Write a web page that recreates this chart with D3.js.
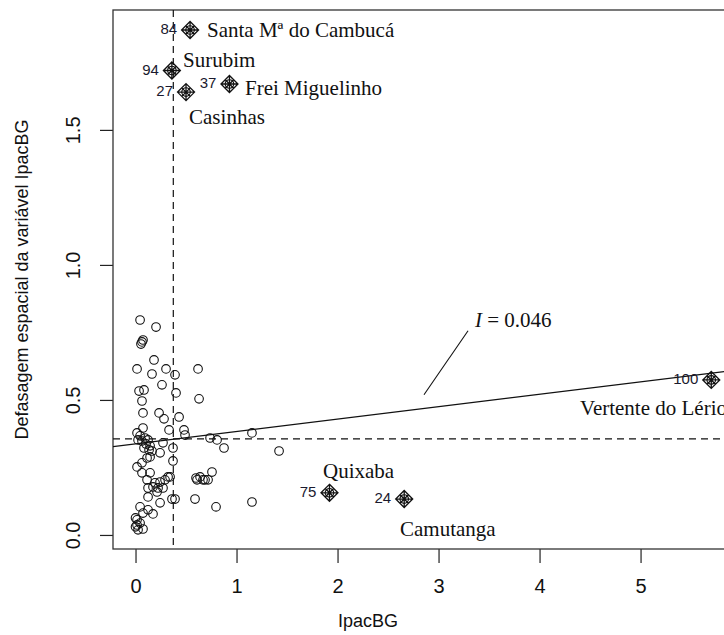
<!DOCTYPE html>
<html><head><meta charset="utf-8">
<script src="https://cdn.jsdelivr.net/npm/d3@7"></script>
<style>body{margin:0;background:#fff}svg{display:block}</style>
</head><body>
<script>
// ---- data ----
const ptX = [0.045,0.203,0.074,0.064,0.054,0.183,0.015,0.163,0.302,0.391,0.619,0.262,0.035,0.084,0.401,0.629,0.064,0.074,0.233,0.282,0.431,0.332,0.480,0.490,0.074,0.015,0.045,0.094,0.064,0.124,0.104,0.144,0.084,0.163,0.134,0.144,0.025,0.272,0.371,0.738,0.807,0.876,1.153,1.421,0.243,0.371,0.015,0.064,0.114,0.064,0.144,0.114,0.193,0.243,0.292,0.322,0.342,0.124,0.173,0.223,0.213,0.272,0.639,0.609,0.688,0.757,0.718,0.599,0.668,0.361,0.391,0.589,1.153,0.797,0.243,0.124,0.045,0.074,0.173,0.124,0.015,0.045,0.000,0.025,0.074,0.000,0.015];
const ptY = [0.796,0.770,0.722,0.715,0.707,0.648,0.615,0.596,0.615,0.593,0.615,0.556,0.533,0.537,0.526,0.504,0.496,0.452,0.452,0.430,0.437,0.389,0.389,0.370,0.396,0.378,0.367,0.359,0.348,0.352,0.337,0.330,0.322,0.311,0.315,0.289,0.352,0.341,0.322,0.359,0.352,0.322,0.378,0.311,0.304,0.274,0.252,0.267,0.285,0.230,0.230,0.204,0.193,0.196,0.204,0.215,0.215,0.174,0.178,0.174,0.159,0.174,0.215,0.204,0.204,0.233,0.204,0.211,0.204,0.133,0.133,0.133,0.122,0.104,0.119,0.141,0.104,0.081,0.078,0.093,0.056,0.044,0.030,0.019,0.022,0.063,0.037];

const inflX  = [0.54, 0.36, 0.93, 0.50, 5.70, 1.92, 2.66];
const inflY  = [1.87, 1.72, 1.67, 1.64, 0.574, 0.156, 0.133];
const inflId = ["84","94","37","27","100","75","24"];

const names  = ["Santa Mª do Cambucá","Surubim","Frei Miguelinho","Casinhas","Vertente do Lério","Quixaba","Camutanga"];
const nameX  = [0.708, 0.470, 1.084, 0.530, 4.401, 1.856, 2.619];
const nameY  = [1.870, 1.759, 1.656, 1.548, 0.470, 0.237, 0.022];

const meanX = 0.374, meanWX = 0.356;
const slope = 0.046, intercept = 0.337;
const moranLabel = "0.046";
const annotX = [3.292, 2.856], annotY = [0.756, 0.519];
const annotTextX = 3.361, annotTextY = 0.796;

const xTicks = [0,1,2,3,4,5];
const yTicks = [0,0.5,1.0,1.5];
const xTitle = "IpacBG";
const yTitle = "Defasagem espacial da variável IpacBG";

// ---- layout ----
const W = 724, H = 635;
const L = 113, R = 735, T = 10, B = 549;
const x = d3.scaleLinear().domain([-0.223, 5.935]).range([L, R]);
const y = d3.scaleLinear().domain([-0.052, 1.944]).range([B, T]);

const svg = d3.select("body").append("svg").attr("width", W).attr("height", H);
svg.append("defs").append("clipPath").attr("id","clip")
  .append("rect").attr("x",L).attr("y",T).attr("width",R-L).attr("height",B-T);

const sans = "'Liberation Sans', Arial, sans-serif";
const serif = "'Liberation Serif', 'Times New Roman', serif";

// axes
const xAxis = svg.append("g").attr("transform",`translate(0,${B})`)
  .call(d3.axisBottom(x).tickValues(xTicks).tickFormat(d3.format("d")).tickSize(14).tickPadding(16));
xAxis.select(".domain").remove();
xAxis.selectAll("line").attr("stroke","#222").attr("stroke-width",1.2);
xAxis.selectAll("text").attr("font-family",sans).attr("font-size",20).attr("fill","#111");

const yAxis = svg.append("g").attr("transform",`translate(${L},0)`)
  .call(d3.axisLeft(y).tickValues(yTicks).tickFormat(d3.format(".1f")).tickSize(13).tickPadding(0));
yAxis.select(".domain").remove();
yAxis.selectAll("line").attr("stroke","#222").attr("stroke-width",1.2);
yAxis.selectAll("text")
  .attr("font-family",sans).attr("font-size",20).attr("fill","#111")
  .attr("text-anchor","middle").attr("dy",null)
  .attr("x",null).attr("transform","translate(-33,0) rotate(-90)");

// frame
svg.append("rect").attr("x",L).attr("y",T).attr("width",R-L).attr("height",B-T)
  .attr("fill","none").attr("stroke","#333").attr("stroke-width",1.3);

// titles
svg.append("text").attr("x",368).attr("y",627).attr("text-anchor","middle")
  .attr("font-family",sans).attr("font-size",18).attr("fill","#111").text(xTitle);
svg.append("text").attr("transform",`translate(28,${(T+B)/2}) rotate(-90)`).attr("text-anchor","middle")
  .attr("font-family",sans).attr("font-size",18).attr("fill","#111").text(yTitle);

const g = svg.append("g").attr("clip-path","url(#clip)");

// mean lines
g.append("line").attr("x1",x(meanX)).attr("x2",x(meanX)).attr("y1",T).attr("y2",B)
  .attr("stroke","#111").attr("stroke-width",1.2).attr("stroke-dasharray","7,5");
g.append("line").attr("x1",L).attr("x2",R).attr("y1",y(meanWX)).attr("y2",y(meanWX))
  .attr("stroke","#111").attr("stroke-width",1.2).attr("stroke-dasharray","7,5");

// regression line
const x0 = x.domain()[0], x1 = x.domain()[1];
g.append("line").attr("x1",x(x0)).attr("y1",y(intercept+slope*x0))
  .attr("x2",x(x1)).attr("y2",y(intercept+slope*x1))
  .attr("stroke","#111").attr("stroke-width",1.2);

// points
const pts = ptX.map((v,i)=>({x:v,y:ptY[i]}));
g.selectAll("circle.p").data(pts).enter().append("circle").attr("class","p")
  .attr("cx",d=>x(d.x)).attr("cy",d=>y(d.y)).attr("r",4.3)
  .attr("fill","none").attr("stroke","#111").attr("stroke-width",1.1);

// influential points
const infl = inflX.map((v,i)=>({x:v,y:inflY[i],id:inflId[i]}));
const ig = g.selectAll("g.inf").data(infl).enter().append("g").attr("class","inf")
  .attr("transform",d=>`translate(${x(d.x)},${y(d.y)})`);
const s = 8.5;
ig.append("circle").attr("r",4.3).attr("fill","none").attr("stroke","#111").attr("stroke-width",1.1);
ig.append("path").attr("d",`M0,${-s}L${s},0L0,${s}L${-s},0Z M0,${-s}V${s} M${-s},0H${s} M${-s/2},${-s/2}L${s/2},${s/2} M${s/2},${-s/2}L${-s/2},${s/2}`)
  .attr("fill","none").attr("stroke","#111").attr("stroke-width",1.3);
ig.append("text").attr("x",-13).attr("y",-1).attr("dy","0.35em").attr("text-anchor","end")
  .attr("font-family",sans).attr("font-size",15).attr("fill","#1a1a2e").text(d=>d.id);

// names
g.selectAll("text.nm").data(names).enter().append("text").attr("class","nm")
  .attr("x",(d,i)=>x(nameX[i])).attr("y",(d,i)=>y(nameY[i])).attr("dy","0.35em")
  .attr("font-family",serif).attr("font-size",21).attr("fill","#111").text(d=>d);

// Moran annotation
g.append("line").attr("x1",x(annotX[0])).attr("y1",y(annotY[0])).attr("x2",x(annotX[1])).attr("y2",y(annotY[1]))
  .attr("stroke","#111").attr("stroke-width",1.1);
const mt = g.append("text").attr("x",x(annotTextX)).attr("y",y(annotTextY)).attr("dy","0.35em")
  .attr("font-family",serif).attr("font-size",21).attr("fill","#111");
mt.append("tspan").attr("font-style","italic").text("I");
mt.append("tspan").text(" = " + moranLabel);
</script>
</body></html>
